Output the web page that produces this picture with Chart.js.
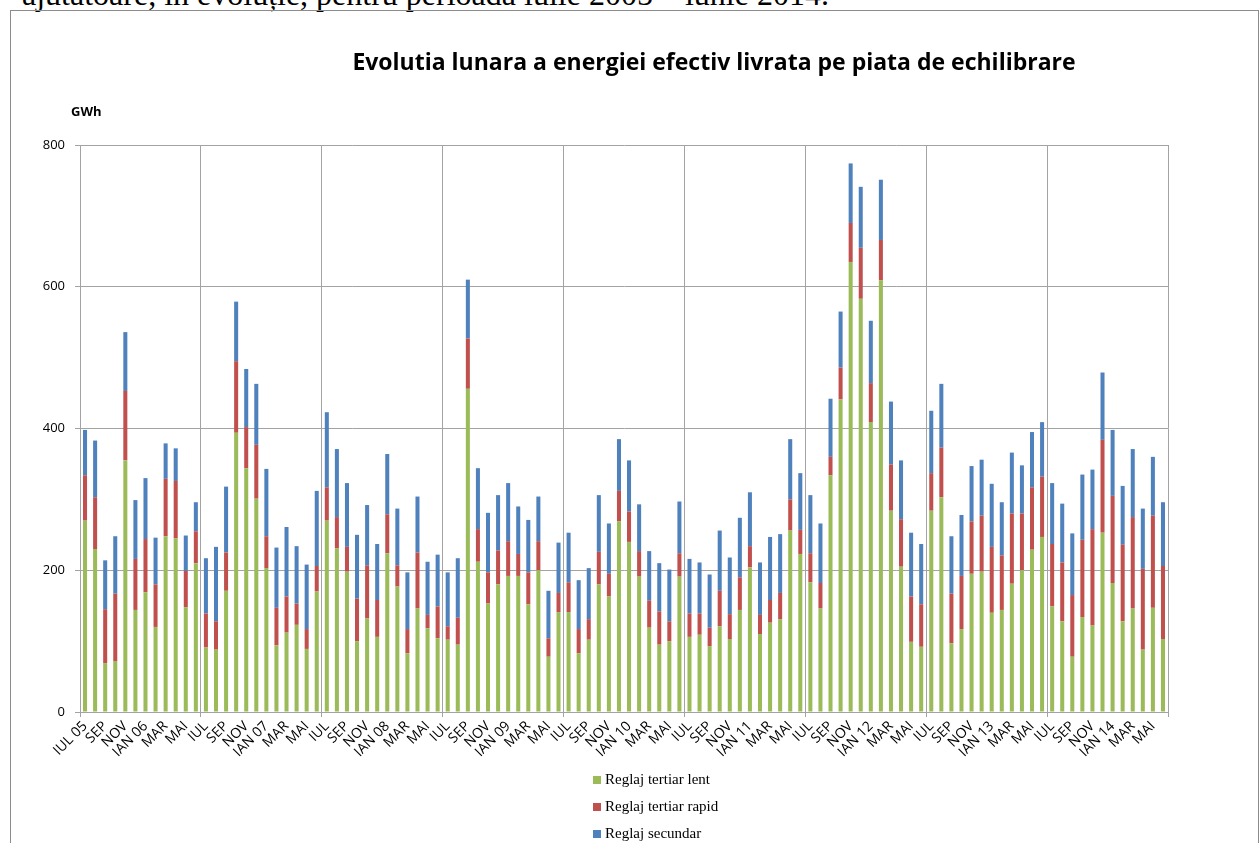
<!DOCTYPE html>
<html>
<head>
<meta charset="utf-8">
<script src="https://cdn.jsdelivr.net/npm/chart.js@4.4.1/dist/chart.umd.min.js"></script>
<style>
  body { margin: 0; background: #fff; }
  #page { position: relative; width: 1259px; height: 843px; overflow: hidden; }
  #topline { position: absolute; left: 22px; top: -24px; font: 32px "Liberation Serif", serif; color: #000; white-space: nowrap; }
  #frame { position: absolute; left: 10px; top: 10px; width: 1247px; height: 900px; border: 1px solid #8c8c8c; }
  #title { position: absolute; left: 0; width: 1428px; top: 45px; text-align: center; font: bold 23px "Open Sans", sans-serif; color: #000; }
  #unit { position: absolute; left: 71px; top: 102px; font: bold 13px "Open Sans", sans-serif; }
  canvas { position: absolute; left: 0; top: 0; }
  #legend { position: absolute; left: 593px; top: 768px; font: 15px "Liberation Serif", serif; }
  #legend div { height: 27px; line-height: 22px; }
  #legend span { display: inline-block; width: 8px; height: 8px; margin-right: 4px; }
</style>
</head>
<body>
<div id="page">
  <div id="topline">ajutătoare, în evoluție, pentru perioada iulie 2005 – iunie 2014.</div>
  <div id="frame"></div>
  <canvas id="chart" width="1259" height="843"></canvas>
  <div id="title">Evolutia lunara a energiei efectiv livrata pe piata de echilibrare</div>
  <div id="unit">GWh</div>
  <div id="legend"></div>
</div>
<script>
// month labels, iul 2005 - iun 2014
const months = ["IUL", "AUG", "SEP", "OCT", "NOV", "DEC", "IAN", "FEB", "MAR", "APR", "MAI", "IUN"];
const years = ["05", "06", "07", "08", "09", "10", "11", "12", "13", "14"];

const categories = [];
for (let y = 0; y < 9; y++) {
  months.forEach((m, i) => {
    if (y === 0 && i === 0) categories.push("IUL 05");
    else if (i === 6) categories.push("IAN " + years[y + 1]);
    else categories.push(m);
  });
}

const seriesNames = ["Reglaj tertiar lent", "Reglaj tertiar rapid", "Reglaj secundar"];
const seriesColors = ["#9bbb59", "#c0504d", "#4f81bd"];

// GWh
const lent = [270,230,69,72,355,144,169,120,248,245,148,210,
  91,88,171,394,344,301,203,94,112,123,89,170,
  270,231,198,100,132,106,224,177,83,146,118,104,
  102,95,456,212,153,180,192,192,152,200,78,141,
  141,83,102,180,163,269,240,191,119,95,100,191,
  106,109,93,121,103,144,204,110,126,131,256,223,
  183,146,334,441,635,583,409,609,284,205,99,92,
  284,303,97,117,195,198,140,144,181,200,229,247,
  149,128,78,134,122,253,182,128,146,88,147,103];

const rapid = [64,73,76,95,98,72,75,60,81,81,51,45,
  48,40,54,101,58,76,45,53,51,30,28,36,
  47,44,35,60,75,52,55,30,34,79,19,45,
  19,38,71,46,44,48,49,31,45,41,26,27,
  42,34,29,46,32,43,43,36,38,47,28,33,
  33,30,26,50,35,46,30,27,32,37,44,34,
  41,36,26,45,55,72,55,57,65,67,64,60,
  53,70,70,75,74,79,93,77,99,80,88,85,
  88,83,87,109,136,131,123,108,129,114,130,103];

const secundar = [64,80,69,81,83,83,86,66,50,46,50,41,
  78,105,93,84,82,86,95,85,98,81,91,106,
  106,96,90,90,85,79,85,80,80,79,75,73,
  76,84,83,86,84,78,82,67,74,63,67,71,
  70,69,72,80,71,73,72,66,70,68,73,73,
  77,72,75,85,80,84,76,74,89,83,85,80,
  82,84,82,79,84,86,88,85,89,83,90,85,
  88,90,81,86,78,79,89,75,86,68,78,77,
  86,83,87,92,84,95,93,83,96,85,83,90];

const yTicks = [0, 200, 400, 600, 800];

const gridGray = "#a3a3a3";
const seriesData = [lent, rapid, secundar];

// only every 12th vertical line (year boundaries)
const yearLine = (c) => (c.index === undefined || c.index % 12 === 0) ? gridGray : "rgba(0,0,0,0)";

new Chart(document.getElementById("chart"), {
  type: "bar",
  data: {
    labels: categories,
    datasets: seriesNames.map((name, i) => ({
      label: name,
      data: seriesData[i],
      backgroundColor: seriesColors[i],
      barPercentage: 0.4,
      categoryPercentage: 1
    }))
  },
  options: {
    responsive: false,
    animation: false,
    layout: { padding: { left: 20, right: 91, top: 145, bottom: 0 } },
    plugins: { legend: { display: false }, tooltip: { enabled: false } },
    scales: {
      x: {
        stacked: true,
        afterFit: (s) => { s.height = 131; },
        grid: { offset: true, color: yearLine, tickColor: yearLine, tickLength: 5, lineWidth: 1 },
        border: { color: gridGray },
        ticks: {
          autoSkip: false,
          minRotation: 45,
          maxRotation: 45,
          padding: 1,
          color: "#000",
          font: { family: "Open Sans", size: 14 },
          callback: (v, i) => (i % 2 === 0 ? categories[i] : "")
        }
      },
      y: {
        stacked: true,
        min: yTicks[0],
        max: yTicks[yTicks.length - 1],
        afterFit: (s) => { s.width = 60; },
        afterBuildTicks: (s) => { s.ticks = yTicks.map((v) => ({ value: v })); },
        grid: { color: gridGray, tickColor: gridGray, tickLength: 5 },
        border: { color: gridGray },
        ticks: { padding: 10, color: "#000", font: { family: "Open Sans", size: 13 } }
      }
    }
  }
});

const legend = document.getElementById("legend");
seriesNames.forEach((name, i) => {
  const row = document.createElement("div");
  row.innerHTML = '<span style="background:' + seriesColors[i] + '"></span>' + name;
  legend.appendChild(row);
});
</script>
</body>
</html>
